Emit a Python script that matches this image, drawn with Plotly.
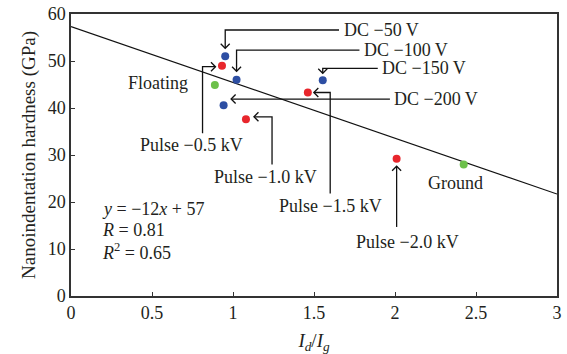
import plotly.graph_objects as go

# ---------------- data ----------------
dc_labels = ["DC −50 V", "DC −100 V", "DC −150 V", "DC −200 V"]
dc_x = [0.952, 1.022, 1.554, 0.942]
dc_y = [51.0, 46.0, 45.9, 40.6]

pulse_labels = ["Pulse −0.5 kV", "Pulse −1.0 kV", "Pulse −1.5 kV", "Pulse −2.0 kV"]
pulse_x = [0.932, 1.08, 1.462, 2.01]
pulse_y = [49.0, 37.6, 43.3, 29.2]

ref_labels = ["Floating", "Ground"]
ref_x = [0.888, 2.424]
ref_y = [44.9, 28.0]

fit_x = [0, 3]
fit_y = [57.3, 21.7]
fit_text = ["<i>y</i> = −12<i>x</i> + 57", "<i>R</i> = 0.81", "<i>R</i><sup>2</sup> = 0.65"]

x_ticks = [0, 0.5, 1, 1.5, 2, 2.5, 3]
x_ticktext = ["0", "0.5", "1", "1.5", "2", "2.5", "3"]
y_ticks = [0, 10, 20, 30, 40, 50, 60]

# ---------------- layout geometry ----------------
W, H = 567, 354
ML, MR, MT, MB = 71, 10, 14, 58
PW, PH = W - ML - MR, H - MT - MB
X_RANGE = [0, 3]
Y_RANGE = [0, 60]
FONT = "Liberation Serif"
TXT = "#231f20"
LFS = 18  # label font size


def dxp(p):
    return p * (X_RANGE[1] - X_RANGE[0]) / PW


def dyp(p):
    return p * (Y_RANGE[1] - Y_RANGE[0]) / PH


BLUE = "#2d4ea3"
RED = "#e8262c"
GREEN = "#6cc04a"

fig = go.Figure()

# fit line
fig.add_trace(go.Scatter(x=fit_x, y=fit_y, mode="lines",
                         line=dict(color="#111", width=1.2), hoverinfo="skip"))

# callout geometry (label placement, style only)
callouts = {
    "DC −50 V": dict(lx=1.67, ly=56.6, anchor="left", kind="down", gap=8),
    "DC −100 V": dict(lx=1.796, ly=52.3, anchor="left", kind="down", gap=8.5),
    "DC −150 V": dict(lx=1.909, ly=48.45, anchor="left", kind="down", gap=7),
    "DC −200 V": dict(lx=1.981, ly=41.9, anchor="left", kind="left", gap=7.5),
    "Pulse −0.5 kV": dict(lx=0.746, ly=32.1, anchor="center", kind="up_right", vx=0.812, gap=6.5, lift=-1, top=12),
    "Pulse −1.0 kV": dict(lx=1.2, ly=25.3, anchor="center", kind="up_left", vx=1.241, gap=8, lift=2.5, top=12.5),
    "Pulse −1.5 kV": dict(lx=1.6, ly=19.15, anchor="center", kind="up_left", vx=1.6, gap=6, lift=0, top=12.5),
    "Pulse −2.0 kV": dict(lx=2.076, ly=11.5, anchor="center", kind="up", gap=7.5, top=15),
}

lx_all, ly_all = [], []
A = 4.5  # chevron arm size px


def chevron(tx, ty, direction):
    # returns the arms of an open arrowhead at the tip
    if direction == "down":
        pts = [(tx - dxp(A), ty + dyp(A)), (tx, ty), (tx + dxp(A), ty + dyp(A))]
    elif direction == "up":
        pts = [(tx - dxp(A), ty - dyp(A)), (tx, ty), (tx + dxp(A), ty - dyp(A))]
    elif direction == "left":
        pts = [(tx + dxp(A), ty + dyp(A)), (tx, ty), (tx + dxp(A), ty - dyp(A))]
    else:
        pts = [(tx - dxp(A), ty + dyp(A)), (tx, ty), (tx - dxp(A), ty - dyp(A))]
    return pts


points = list(zip(dc_labels, dc_x, dc_y)) + list(zip(pulse_labels, pulse_x, pulse_y))
for lab, px, py in points:
    c = callouts[lab]
    k = c["kind"]
    if k == "down":
        tip = (px, py + dyp(c["gap"]))
        path = [(c["lx"] - dxp(2.5), c["ly"]), (px, c["ly"]), tip]
        d = "down"
    elif k == "left":
        tip = (px + dxp(c["gap"]), c["ly"])
        path = [(c["lx"] - dxp(2), c["ly"]), tip]
        d = "left"
    elif k == "up_right":
        yy = py + dyp(c["lift"])
        tip = (px - dxp(c["gap"]), yy)
        path = [(c["vx"], c["ly"] + dyp(c["top"])), (c["vx"], yy), tip]
        d = "right"
    elif k == "up_left":
        yy = py + dyp(c["lift"])
        tip = (px + dxp(c["gap"]), yy)
        path = [(c["vx"], c["ly"] + dyp(c["top"])), (c["vx"], yy), tip]
        d = "left"
    else:
        tip = (px, py - dyp(c["gap"]))
        path = [(px, c["ly"] + dyp(c["top"])), tip]
        d = "up"
    for (x, y) in path:
        lx_all.append(x); ly_all.append(y)
    lx_all.append(None); ly_all.append(None)
    for (x, y) in chevron(tip[0], tip[1], d):
        lx_all.append(x); ly_all.append(y)
    lx_all.append(None); ly_all.append(None)
    fig.add_annotation(x=c["lx"], y=c["ly"], text=lab, showarrow=False,
                       xanchor=c["anchor"], yanchor="middle",
                       font=dict(family=FONT, size=LFS, color=TXT))

fig.add_trace(go.Scatter(x=lx_all, y=ly_all, mode="lines",
                         line=dict(color="#111", width=1.3), hoverinfo="skip"))

# markers
fig.add_trace(go.Scatter(x=dc_x, y=dc_y, mode="markers",
                         marker=dict(color=BLUE, size=8, line=dict(width=0))))
fig.add_trace(go.Scatter(x=pulse_x, y=pulse_y, mode="markers",
                         marker=dict(color=RED, size=8, line=dict(width=0))))
fig.add_trace(go.Scatter(x=ref_x, y=ref_y, mode="markers",
                         marker=dict(color=GREEN, size=8, line=dict(width=0))))

ref_pos = {"Floating": (0.536, 45.25), "Ground": (2.372, 24.1)}
for lab in ref_labels:
    x, y = ref_pos[lab]
    fig.add_annotation(x=x, y=y, text=lab, showarrow=False, xanchor="center",
                       yanchor="middle", font=dict(family=FONT, size=LFS, color=TXT))

for i, t in enumerate(fit_text):
    fig.add_annotation(x=0.177, y=[18.6, 14.0, 9.5][i], text=t, showarrow=False,
                       xanchor="left", yanchor="middle",
                       font=dict(family=FONT, size=LFS, color=TXT))

axis_common = dict(showline=True, linecolor="#333", linewidth=1.5, mirror=True,
                   ticks="inside", ticklen=4, tickwidth=1.2, tickcolor="#333",
                   showgrid=False, zeroline=False, automargin=False,
                   tickfont=dict(family=FONT, size=18, color=TXT))

fig.update_layout(
    width=W, height=H,
    margin=dict(l=ML, r=MR, t=MT, b=MB, autoexpand=False),
    paper_bgcolor="white", plot_bgcolor="white",
    showlegend=False,
    xaxis=dict(range=X_RANGE, tickvals=x_ticks, ticktext=x_ticktext,
               title=dict(text="<i>I</i><sub><i>d</i></sub>/<i>I</i><sub><i>g</i></sub>",
                          font=dict(family=FONT, size=19, color=TXT), standoff=15),
               **axis_common),
    yaxis=dict(range=Y_RANGE, tickvals=y_ticks,
               title=dict(text="Nanoindentation hardness (GPa)",
                          font=dict(family=FONT, size=19, color=TXT), standoff=7),
               **axis_common),
)

fig.write_html("out.html")
